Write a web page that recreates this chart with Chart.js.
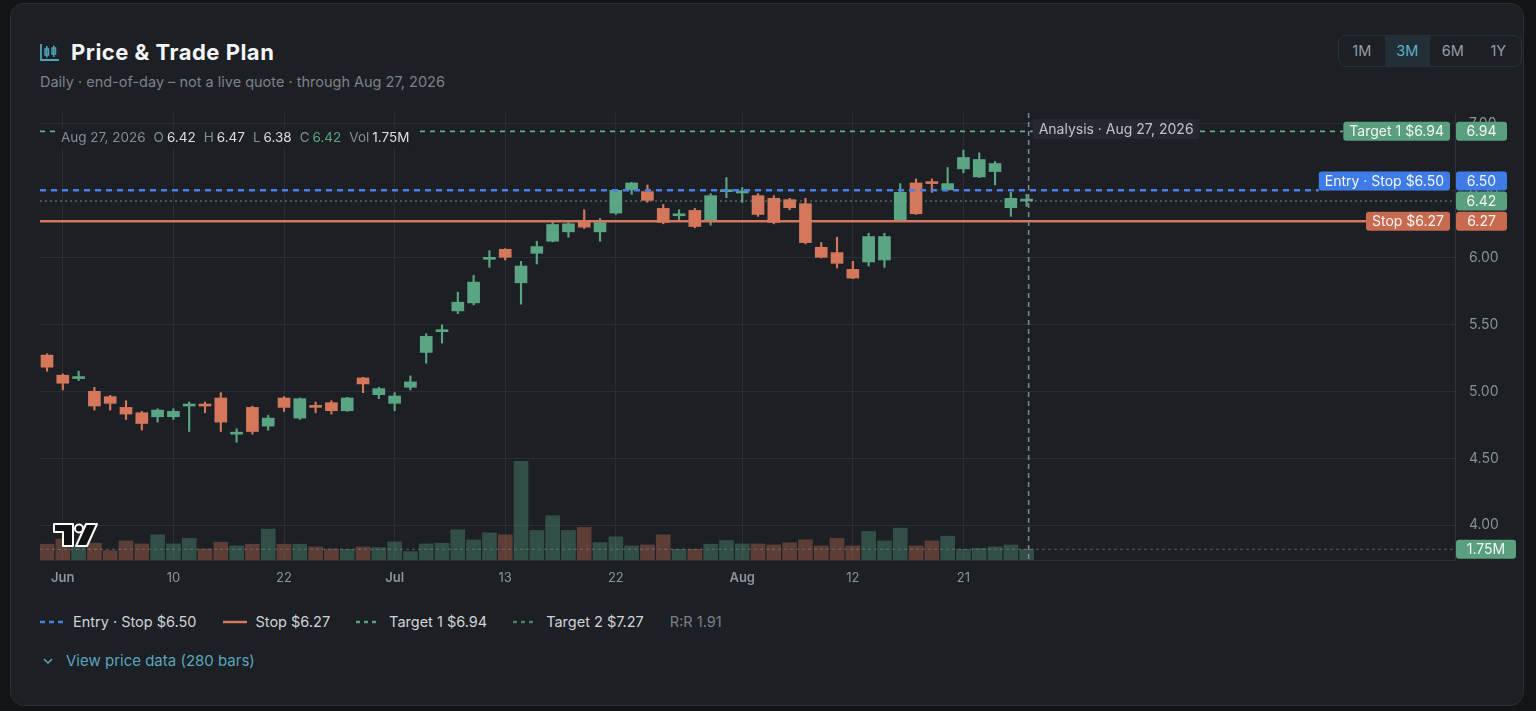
<!DOCTYPE html>
<html>
<head>
<meta charset="utf-8">
<title>Price & Trade Plan</title>
<script src="https://cdn.jsdelivr.net/npm/chart.js@4.4.1/dist/chart.umd.min.js"></script>
<style>
  body { margin: 0; width: 1536px; height: 711px; overflow: hidden; background: #131416; font-family: Inter, "Noto Sans", sans-serif; }
  .card { position: absolute; left: 10px; top: 3px; width: 1514px; height: 703px; background: #1c1f24; border: 1px solid #2a2e34; border-radius: 14px; box-sizing: border-box; }
  .abs { position: absolute; white-space: nowrap; }
  .title { left: 71px; top: 39px; font-size: 22px; line-height: 26px; font-weight: 700; letter-spacing: 0.5px; color: #f4f5f6; }
  .sub { left: 40px; top: 73px; font-size: 14.5px; line-height: 18px; color: #7d828a; }
  .range { left: 1338px; top: 35px; width: 184px; height: 32px; border: 1px solid #2b2f36; border-radius: 8px; box-sizing: border-box; display: flex; overflow: hidden; }
  .range div { flex: 1; text-align: center; line-height: 30px; font-size: 14.5px; color: #979ca3; }
  .range .on { background: #222f37; color: #5fb0c8; }
  #wrap { position: absolute; left: 40px; top: 100px; width: 1480px; height: 500px; }
  .legend { left: 40px; top: 612px; display: flex; align-items: center; font-size: 14.5px; line-height: 20px; color: #d0d3d7; }
  .legend .it { display: flex; align-items: center; margin-right: 26px; }
  .legend svg { margin-right: 9px; }
  .legend .rr { color: #7b8087; }
  .more { left: 42px; top: 651px; font-size: 15px; line-height: 20px; color: #5aa6bd; display: flex; align-items: center; }
  .more svg { margin-right: 12px; }
</style>
</head>
<body>
<div class="card"></div>

<svg class="abs" style="left:40px;top:43px" width="20" height="18" viewBox="0 0 20 18">
  <path d="M1 1 V17 H19" fill="none" stroke="#4fa3b8" stroke-width="1.8"/>
  <rect x="5" y="6" width="3.5" height="6" fill="none" stroke="#4fa3b8" stroke-width="1.5"/>
  <line x1="6.75" y1="3" x2="6.75" y2="14.5" stroke="#4fa3b8" stroke-width="1.5"/>
  <rect x="12" y="5" width="3.5" height="6" fill="none" stroke="#4fa3b8" stroke-width="1.5"/>
  <line x1="13.75" y1="2.5" x2="13.75" y2="14" stroke="#4fa3b8" stroke-width="1.5"/>
</svg>
<div class="abs title">Price &amp; Trade Plan</div>
<div class="abs sub">Daily · end-of-day – not a live quote · through Aug 27, 2026</div>

<div class="abs range"><div>1M</div><div class="on">3M</div><div>6M</div><div>1Y</div></div>

<div id="wrap"><canvas id="priceChart"></canvas></div>

<div class="abs legend">
  <div class="it"><svg width="24" height="4"><line x1="0" y1="2" x2="24" y2="2" stroke="#4a7fe8" stroke-width="2.5" stroke-dasharray="5 4"/></svg>Entry · Stop $6.50</div>
  <div class="it"><svg width="24" height="4"><line x1="0" y1="2" x2="24" y2="2" stroke="#d4775a" stroke-width="2.5"/></svg>Stop $6.27</div>
  <div class="it"><svg width="24" height="4"><line x1="0" y1="2" x2="24" y2="2" stroke="#5a9f7e" stroke-width="2.5" stroke-dasharray="4 4"/></svg>Target 1 $6.94</div>
  <div class="it"><svg width="24" height="4"><line x1="0" y1="2" x2="24" y2="2" stroke="#4b7e65" stroke-width="2.5" stroke-dasharray="4 4"/></svg>Target 2 $7.27</div>
  <div class="it rr">R:R 1.91</div>
</div>

<div class="abs more"><svg width="12" height="8" viewBox="0 0 12 8"><path d="M2 2 L6 6 L10 2" fill="none" stroke="#5aa6bd" stroke-width="1.5"/></svg>View price data (280 bars)</div>

<script>
// daily bars, May 29 -> Aug 27, 2026
const dates = ["May 29","Jun 1","Jun 2","Jun 3","Jun 4","Jun 5","Jun 8","Jun 9","Jun 10","Jun 11","Jun 12",
  "Jun 15","Jun 16","Jun 17","Jun 18","Jun 22","Jun 23","Jun 24","Jun 25","Jun 26","Jun 29","Jun 30",
  "Jul 1","Jul 2","Jul 6","Jul 7","Jul 8","Jul 9","Jul 10","Jul 13","Jul 14","Jul 15","Jul 16","Jul 17",
  "Jul 20","Jul 21","Jul 22","Jul 23","Jul 24","Jul 27","Jul 28","Jul 29","Jul 30","Jul 31",
  "Aug 3","Aug 4","Aug 5","Aug 6","Aug 7","Aug 10","Aug 11","Aug 12","Aug 13","Aug 14",
  "Aug 17","Aug 18","Aug 19","Aug 20","Aug 21","Aug 24","Aug 25","Aug 26","Aug 27"]
const openPx = [5.27,5.12,5.095,5.00,4.96,4.88,4.84,4.81,4.81,4.89,4.90,
  4.95,4.68,4.88,4.74,4.95,4.80,4.89,4.915,4.855,5.10,4.975,
  4.91,5.03,5.29,5.445,5.60,5.66,5.985,6.06,5.81,6.03,6.12,6.19,
  6.265,6.19,6.33,6.505,6.49,6.365,6.31,6.35,6.275,6.49,
  6.48,6.46,6.44,6.43,6.40,6.075,6.035,5.91,5.965,5.98,
  6.275,6.555,6.56,6.505,6.66,6.60,6.64,6.37,6.42]
const highPx = [5.28,5.13,5.15,5.03,4.97,4.93,4.85,4.87,4.87,4.92,4.92,
  4.99,4.72,4.89,4.82,4.96,4.95,4.92,4.93,4.955,5.105,5.03,
  4.99,5.115,5.43,5.495,5.74,5.865,6.05,6.065,5.97,6.12,6.26,6.26,
  6.355,6.29,6.50,6.56,6.54,6.395,6.355,6.365,6.475,6.595,
  6.52,6.475,6.46,6.44,6.44,6.11,6.15,5.97,6.18,6.18,
  6.55,6.585,6.585,6.67,6.80,6.78,6.715,6.485,6.47]
const lowPx = [5.15,5.01,5.08,4.86,4.86,4.79,4.71,4.77,4.79,4.70,4.84,
  4.70,4.62,4.68,4.71,4.85,4.79,4.84,4.83,4.85,4.99,4.945,
  4.855,5.01,5.21,5.36,5.58,5.645,5.925,5.98,5.65,5.95,6.115,6.15,
  6.215,6.12,6.32,6.47,6.41,6.25,6.275,6.22,6.24,6.445,
  6.41,6.305,6.25,6.355,6.10,5.995,5.92,5.84,5.935,5.925,
  6.27,6.32,6.485,6.50,6.63,6.595,6.54,6.305,6.38]
const closePx = [5.18,5.06,5.105,4.89,4.91,4.83,4.76,4.86,4.85,4.90,4.89,
  4.77,4.69,4.70,4.80,4.88,4.945,4.88,4.855,4.95,5.055,5.02,
  4.965,5.07,5.41,5.455,5.665,5.815,5.995,6.00,5.935,6.08,6.245,6.25,
  6.225,6.26,6.50,6.555,6.425,6.26,6.32,6.23,6.46,6.50,
  6.49,6.32,6.26,6.37,6.11,6.00,5.955,5.845,6.155,6.155,
  6.485,6.325,6.55,6.55,6.745,6.73,6.70,6.44,6.42]
// volume in millions of shares
const volumeM = [2.57,3.4,2.2,2.73,1.53,3.11,2.62,4.10,2.62,3.55,1.80,
  2.90,2.30,2.57,5.03,2.57,2.57,2.13,1.80,1.75,2.13,2.02,
  2.95,1.37,2.62,2.73,4.92,3.28,4.43,4.10,16.07,4.81,7.21,4.81,
  5.30,2.84,3.77,2.30,2.46,4.10,1.75,1.75,2.57,3.17,
  2.62,2.62,2.46,2.79,3.28,2.30,3.55,2.30,4.64,3.11,
  5.19,2.30,3.11,3.88,1.75,1.91,2.13,2.46,1.75]

const tickIdx = [1, 8, 15, 22, 29, 36, 44, 51, 58]
const tickLabels = ["Jun", "10", "22", "Jul", "13", "22", "Aug", "12", "21"]
const priceTicks = [4, 4.5, 5, 5.5, 6, 6.5, 7]

const entryPrice = 6.50
const stopPrice = 6.27
const target1 = 6.94
const lastClose = 6.42
const lastVol = 1.75
const lastDay = "Aug 27, 2026"

const GREEN = "#5aa584"
const RED = "#d4775a"
const GREEN_VOL = "rgba(90,165,132,0.36)"
const RED_VOL = "rgba(212,119,90,0.36)"
const BOX_GREEN = "#5a9f7e"
const BOX_BLUE = "#3f7be6"
const BOX_RED = "#c86a50"
const CARD = "#1c1f24"
const FONT = 'Inter, "Noto Sans", sans-serif'

const isUp = i => closePx[i] >= openPx[i]
const bodies = dates.map((d, i) => ({ x: i, y: [Math.min(openPx[i], closePx[i]), Math.max(openPx[i], closePx[i])] }))
const wicks = dates.map((d, i) => ({ x: i, y: [lowPx[i], highPx[i]] }))
const vols = dates.map((d, i) => ({ x: i, y: volumeM[i] }))

Chart.defaults.font.family = FONT

function roundBox(ctx, x, y, w, h, r, fill) {
  ctx.beginPath()
  ctx.roundRect(x, y, w, h, r)
  ctx.fillStyle = fill
  ctx.fill()
}

function xTickFont(c) {
  const v = c && c.tick ? c.tick.value : null
  const lab = tickLabels[tickIdx.indexOf(v)] || ""
  return { size: 13, weight: /^[A-Z]/.test(lab) ? "600" : "400" }
}

const overlay = {
  id: "overlay",
  afterDatasetsDraw(chart) {
    const { ctx, chartArea: a, scales } = chart
    const x = scales.x, y = scales.y, yVol = scales.yVol
    ctx.save()

    // volume marker line
    const vy = yVol.getPixelForValue(lastVol)
    ctx.setLineDash([3, 3])
    ctx.lineWidth = 1
    ctx.strokeStyle = "rgba(140,146,152,0.55)"
    ctx.beginPath(); ctx.moveTo(a.left, vy); ctx.lineTo(a.right, vy); ctx.stroke()

    // label boxes, positions nudged apart so they don't overlap
    ctx.font = "14px " + FONT
    const placed = []
    const placeY = yc => {
      let moved = true
      while (moved) {
        moved = false
        for (const p of placed) {
          if (Math.abs(yc - p) < 20) { yc = yc <= p ? p - 20 : p + 20; moved = true }
        }
      }
      placed.push(yc)
      return yc
    }
    const levels = [
      { v: lastClose, color: BOX_GREEN, text: null },
      { v: stopPrice, color: BOX_RED, text: "Stop $" + stopPrice.toFixed(2) },
      { v: target1, color: BOX_GREEN, text: "Target 1 $" + target1.toFixed(2) },
      { v: entryPrice, color: BOX_BLUE, text: "Entry · Stop $" + entryPrice.toFixed(2) },
    ]
    levels.forEach(l => {
      l.py = y.getPixelForValue(l.v)
      l.cy = placeY(l.py)
      l.w = l.text ? ctx.measureText(l.text).width + 12 : 0
      l.left = a.right - 5 - l.w
    })

    // price lines
    const drawLine = (py, x2, color, width, dash) => {
      ctx.setLineDash(dash)
      ctx.lineWidth = width
      ctx.strokeStyle = color
      ctx.beginPath(); ctx.moveTo(a.left, py); ctx.lineTo(x2, py); ctx.stroke()
    }
    drawLine(levels[0].py, a.right, "rgba(130,165,148,0.8)", 1, [2, 3])
    drawLine(levels[2].py, levels[2].left, "#5fae88", 1.8, [5, 5])
    drawLine(levels[1].py, levels[1].left, RED, 2.5, [])
    drawLine(levels[3].py, levels[3].left, "#4a7fe8", 2.5, [6, 5])

    // analysis marker
    const ax = x.getPixelForValue(dates.length - 1) + 2
    ctx.setLineDash([5, 4])
    ctx.lineWidth = 1.5
    ctx.strokeStyle = "#858a91"
    ctx.beginPath(); ctx.moveTo(ax, a.top); ctx.lineTo(ax, a.bottom); ctx.stroke()
    ctx.setLineDash([])

    ctx.textBaseline = "middle"
    const aText = "Analysis · " + lastDay
    const aw = ctx.measureText(aText).width + 12
    roundBox(ctx, ax + 4, a.top + 6, aw, 20, 2, "#25282e")
    ctx.fillStyle = "#c0c4ca"
    ctx.textAlign = "left"
    ctx.fillText(aText, ax + 10, a.top + 16.5)

    // OHLC header
    ctx.font = "13.5px " + FONT
    const i = dates.length - 1
    const parts = [
      [lastDay, "#878c93", 8], ["O", "#878c93", 3], [openPx[i].toFixed(2), "#dcdee1", 8],
      ["H", "#878c93", 3], [highPx[i].toFixed(2), "#dcdee1", 8],
      ["L", "#878c93", 3], [lowPx[i].toFixed(2), "#dcdee1", 8],
      ["C", "#878c93", 3], [closePx[i].toFixed(2), isUp(i) ? GREEN : RED, 8],
      ["Vol", "#878c93", 3], [lastVol.toFixed(2) + "M", "#dcdee1", 0],
    ]
    let tw = 0
    parts.forEach(p => { tw += ctx.measureText(p[0]).width + p[2] })
    const hy = a.top + 25
    ctx.fillStyle = CARD
    ctx.fillRect(a.left + 15, hy - 9, tw + 12, 18)
    let hx = a.left + 21
    parts.forEach(p => {
      ctx.fillStyle = p[1]
      ctx.fillText(p[0], hx, hy)
      hx += ctx.measureText(p[0]).width + p[2]
    })

    // right side boxes
    ctx.font = "14px " + FONT
    levels.forEach(l => {
      if (l.text) {
        roundBox(ctx, l.left, l.cy - 9.5, l.w, 19, 3, l.color)
        ctx.fillStyle = "#f3f5f6"
        ctx.textAlign = "center"
        ctx.fillText(l.text, l.left + l.w / 2, l.cy + 0.5)
      }
      roundBox(ctx, a.right + 1, l.cy - 9.5, 51, 19, 3, l.color)
      ctx.fillStyle = "#f3f5f6"
      ctx.textAlign = "center"
      ctx.fillText(l.v.toFixed(2), a.right + 26.5, l.cy + 0.5)
    })
    roundBox(ctx, a.right + 1, vy - 9.5, 60, 19, 3, BOX_GREEN)
    ctx.fillStyle = "#f3f5f6"
    ctx.fillText(lastVol.toFixed(2) + "M", a.right + 31, vy + 0.5)

    // small watermark logo
    ctx.translate(a.left + 14, a.bottom - 36)
    ctx.fillStyle = "#111214"
    ctx.strokeStyle = "#ffffff"
    ctx.lineWidth = 2
    ctx.lineJoin = "round"
    ctx.beginPath()
    ctx.moveTo(0, 0); ctx.lineTo(19, 0); ctx.lineTo(19, 22); ctx.lineTo(9, 22); ctx.lineTo(9, 8); ctx.lineTo(0, 8); ctx.closePath()
    ctx.fill(); ctx.stroke()
    ctx.beginPath(); ctx.arc(25, 4.5, 4, 0, Math.PI * 2); ctx.fill(); ctx.stroke()
    ctx.beginPath()
    ctx.moveTo(32, 0); ctx.lineTo(43, 0); ctx.lineTo(33, 22); ctx.lineTo(22, 22); ctx.closePath()
    ctx.fill(); ctx.stroke()

    ctx.restore()
  }
}

const canvas = document.getElementById("priceChart")
new Chart(canvas, {
  type: "bar",
  data: {
    datasets: [
      {
        label: "body", data: bodies, yAxisID: "y", order: 0, grouped: false,
        backgroundColor: dates.map((d, i) => isUp(i) ? GREEN : RED),
        barThickness: 12, minBarLength: 2,
      },
      {
        label: "wick", data: wicks, yAxisID: "y", order: 1, grouped: false,
        backgroundColor: dates.map((d, i) => isUp(i) ? GREEN : RED),
        barThickness: 1.5,
      },
      {
        label: "volume", data: vols, yAxisID: "yVol", order: 2, grouped: false,
        backgroundColor: dates.map((d, i) => isUp(i) ? GREEN_VOL : RED_VOL),
        barThickness: 14,
      },
    ],
  },
  options: {
    responsive: true,
    maintainAspectRatio: false,
    animation: false,
    layout: { padding: { top: 13, left: 0, right: 0, bottom: 0 } },
    plugins: { legend: { display: false }, tooltip: { enabled: false } },
    scales: {
      x: {
        type: "linear", min: -0.443, max: 89.11, offset: false,
        grid: { color: "#2a2d33", offset: false, drawTicks: false },
        border: { color: "#30343a" },
        afterBuildTicks: s => { s.ticks = tickIdx.map(v => ({ value: v })) },
        afterFit: s => { s.height = 40; s.paddingLeft = 0; s.paddingRight = 0 },
        ticks: {
          autoSkip: false, maxRotation: 0, padding: 10, color: "#8e939a",
          font: xTickFont,
          callback: v => tickLabels[tickIdx.indexOf(v)],
        },
      },
      y: {
        position: "right", min: 3.741, max: 7.077,
        grid: { color: "#2a2d33", drawTicks: false },
        border: { color: "#30343a" },
        afterBuildTicks: s => { s.ticks = priceTicks.map(v => ({ value: v })) },
        afterFit: s => { s.width = 65; s.paddingTop = 0; s.paddingBottom = 0 },
        ticks: { padding: 14, color: "#8b9096", font: { size: 14 }, callback: v => v.toFixed(2) },
      },
      yVol: { display: false, min: 0, max: 72.8 },
    },
  },
  plugins: [overlay],
})
</script>
</body>
</html>
